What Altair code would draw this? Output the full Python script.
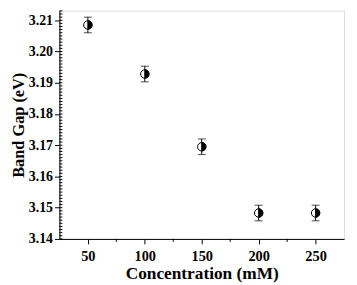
import altair as alt
import pandas as pd

conc = [50, 100, 150, 200, 250]
gap = [3.2085, 3.1928, 3.1695, 3.1483, 3.1483]
err = [0.0025, 0.0025, 0.0025, 0.0025, 0.0025]

y_major = [3.14, 3.15, 3.16, 3.17, 3.18, 3.19, 3.20, 3.21]
y_minor = [round(3.14 + i * 0.001, 3) for i in range(74)]
x_major = [50, 100, 150, 200, 250]
x_minor = [75, 125, 175, 225]

W, H = 288, 231

df = pd.DataFrame({"c": conc, "g": gap,
                   "lo": [g - e for g, e in zip(gap, err)],
                   "hi": [g + e for g, e in zip(gap, err)]})
ymin_df = pd.DataFrame({"v": y_minor})
xmin_df = pd.DataFrame({"v": x_minor})

FONT = "Liberation Serif"
xs = alt.Scale(domain=[25, 275], nice=False, zero=False)
ys = alt.Scale(domain=[3.14, 3.2131], nice=False, zero=False)

x_axis = alt.Axis(values=x_major, format="d", tickSize=5, grid=False,
                  labelFont=FONT, labelFontSize=14.5, labelFontWeight="bold",
                  labelColor="black", titleFont=FONT, titleFontSize=17.5,
                  titleFontWeight="bold", titleColor="black", titlePadding=2,
                  domainColor="black", tickColor="black", labelPadding=6)
y_axis = alt.Axis(values=y_major, format=".2f", tickSize=5, grid=False,
                  labelFont=FONT, labelFontSize=14, labelFontWeight="bold",
                  labelColor="black", titleFont=FONT, titleFontSize=16.5,
                  titleFontWeight="bold", titleColor="black", titlePadding=2,
                  domainColor="black", tickColor="black", labelPadding=2)

X = alt.X("c:Q", scale=xs, title="Concentration (mM)", axis=x_axis)

base = alt.Chart(df)

bars = base.mark_rule(color="black", strokeWidth=1).encode(
    x=X, y=alt.Y("lo:Q", scale=ys, title="Band Gap (eV)", axis=y_axis), y2="hi:Q")
cap_lo = base.mark_tick(color="black", thickness=1, size=8, orient="horizontal").encode(
    x=X, y=alt.Y("lo:Q", scale=ys, title="Band Gap (eV)", axis=y_axis))
cap_hi = base.mark_tick(color="black", thickness=1, size=8, orient="horizontal").encode(
    x=X, y=alt.Y("hi:Q", scale=ys, title="Band Gap (eV)", axis=y_axis))
circ = base.mark_point(shape="circle", filled=True, fill="white", stroke="black",
                       strokeWidth=1, size=72, opacity=1).encode(
    x=X, y=alt.Y("g:Q", scale=ys, title="Band Gap (eV)", axis=y_axis))
half = base.mark_point(shape="M0,-1 A1,1 0 0,1 0,1 Z", filled=True, fill="black",
                       stroke="black", strokeWidth=1, size=72, opacity=1).encode(
    x=X, y=alt.Y("g:Q", scale=ys, title="Band Gap (eV)", axis=y_axis))

# minor ticks (inward on y, outward on x), positioned by the shared scales
yminor = alt.Chart(ymin_df).mark_rule(color="black", strokeWidth=1).encode(
    y=alt.Y("v:Q", scale=ys, title="Band Gap (eV)", axis=y_axis),
    x=alt.value(0), x2=alt.value(3))
xminor = alt.Chart(xmin_df).mark_rule(color="black", strokeWidth=1).encode(
    x=alt.X("v:Q", scale=xs, title="Concentration (mM)", axis=x_axis),
    y=alt.value(H), y2=alt.value(H + 3))

chart = alt.layer(yminor, xminor, bars, cap_lo, cap_hi, circ, half).properties(
    width=W, height=H,
    autosize=alt.AutoSizeParams(type="none"),
    padding={"left": 52, "top": 1, "right": 5, "bottom": 45},
).configure_view(stroke="black", strokeWidth=1).configure(background="white")

chart.save("out.html", embed_options={"renderer": "svg", "actions": False})
